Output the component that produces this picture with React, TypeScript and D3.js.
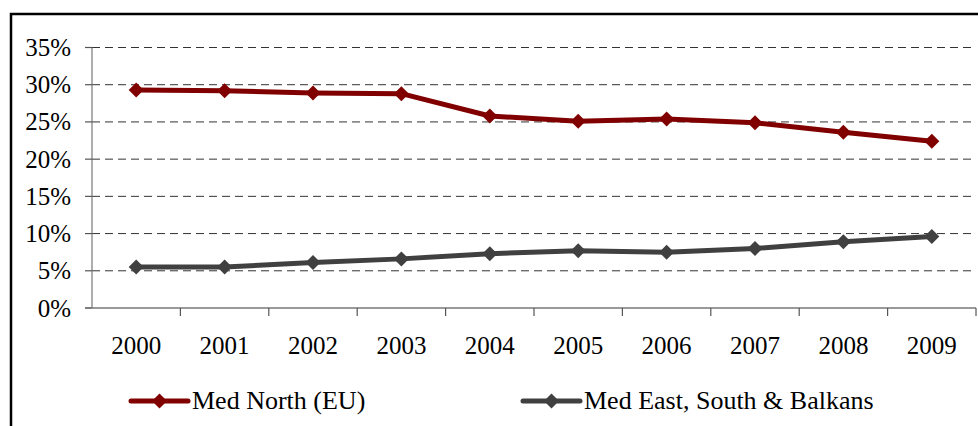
import * as d3 from "d3";

const years = ["2000", "2001", "2002", "2003", "2004", "2005", "2006", "2007", "2008", "2009"];
const medNorth = [29.3, 29.2, 28.9, 28.8, 25.8, 25.1, 25.4, 24.9, 23.6, 22.4];
const medEastSouth = [5.5, 5.5, 6.1, 6.6, 7.3, 7.7, 7.5, 8.0, 8.9, 9.6];
const yTicks = [0, 5, 10, 15, 20, 25, 30, 35];

const seriesNames = ["Med North (EU)", "Med East, South & Balkans"];
const seriesColors = ["#800000", "#404040"];

const width = 978;
const height = 426;
const marginLeft = 92;
const marginRight = 2;
const marginTop = 47.5;
const plotBottom = 308;
const font = "'Liberation Serif', 'Times New Roman', serif";

const diamond = (cx: number, cy: number, r: number) =>
  `M${cx},${cy - r}L${cx + r},${cy}L${cx},${cy + r}L${cx - r},${cy}Z`;

export default function App() {
  const x = d3
    .scaleBand()
    .domain(years)
    .range([marginLeft, width - marginRight]);

  const y = d3.scaleLinear().domain([0, 35]).range([plotBottom, marginTop]);

  const line = d3
    .line<number>()
    .x((d, i) => (x(years[i]) as number) + x.bandwidth() / 2)
    .y((d) => y(d));

  const series = [medNorth, medEastSouth];
  const legendX = [131, 523];

  return (
    <svg
      width={width}
      height={height}
      style={{position: "absolute", left: 0, top: 0, background: "#fff"}}
    >
      {/* outer frame */}
      <rect x={11} y={14} width={980} height={440} fill="none" stroke="#000" strokeWidth={2.5} />

      {/* grid lines */}
      {yTicks.slice(1).map((t) => (
        <line
          key={t}
          x1={marginLeft}
          x2={width - marginRight}
          y1={y(t)}
          y2={y(t)}
          stroke="#333"
          strokeWidth={1}
          strokeDasharray="8,5"
        />
      ))}

      {/* y axis */}
      <line x1={marginLeft} x2={marginLeft} y1={y(35)} y2={y(0)} stroke="#777" strokeWidth={1.2} />
      {yTicks.map((t) => (
        <g key={t}>
          <line x1={marginLeft - 7} x2={marginLeft} y1={y(t)} y2={y(t)} stroke="#555" strokeWidth={1.2} />
          <text
            x={71}
            y={y(t)}
            dy="0.34em"
            textAnchor="end"
            fontFamily={font}
            fontSize={25}
            fill="#000"
          >
            {t}%
          </text>
        </g>
      ))}

      {/* x axis */}
      <line x1={marginLeft - 7} x2={width - marginRight} y1={y(0)} y2={y(0)} stroke="#777" strokeWidth={1.5} />
      {years.map((yr) => (
        <line
          key={"t" + yr}
          x1={(x(yr) as number) + x.bandwidth()}
          x2={(x(yr) as number) + x.bandwidth()}
          y1={y(0)}
          y2={y(0) + 8}
          stroke="#555"
          strokeWidth={1.2}
        />
      ))}
      {years.map((yr) => (
        <text
          key={yr}
          x={(x(yr) as number) + x.bandwidth() / 2}
          y={354}
          textAnchor="middle"
          fontFamily={font}
          fontSize={25}
          fill="#000"
        >
          {yr}
        </text>
      ))}

      {/* series */}
      {series.map((s, si) => (
        <g key={si}>
          <path d={line(s) ?? ""} fill="none" stroke={seriesColors[si]} strokeWidth={5} strokeLinejoin="round" />
          {s.map((v, i) => (
            <path
              key={i}
              d={diamond((x(years[i]) as number) + x.bandwidth() / 2, y(v), 7.5)}
              fill={seriesColors[si]}
            />
          ))}
        </g>
      ))}

      {/* legend */}
      {seriesNames.map((name, si) => (
        <g key={name}>
          <line
            x1={legendX[si]}
            x2={legendX[si] + 57}
            y1={401}
            y2={401}
            stroke={seriesColors[si]}
            strokeWidth={5}
            strokeLinecap="round"
          />
          <path d={diamond(legendX[si] + 28.5, 401, 7.5)} fill={seriesColors[si]} />
          <text x={legendX[si] + 61} y={409} fontFamily={font} fontSize={26} fill="#000">
            {name}
          </text>
        </g>
      ))}
    </svg>
  );
}
